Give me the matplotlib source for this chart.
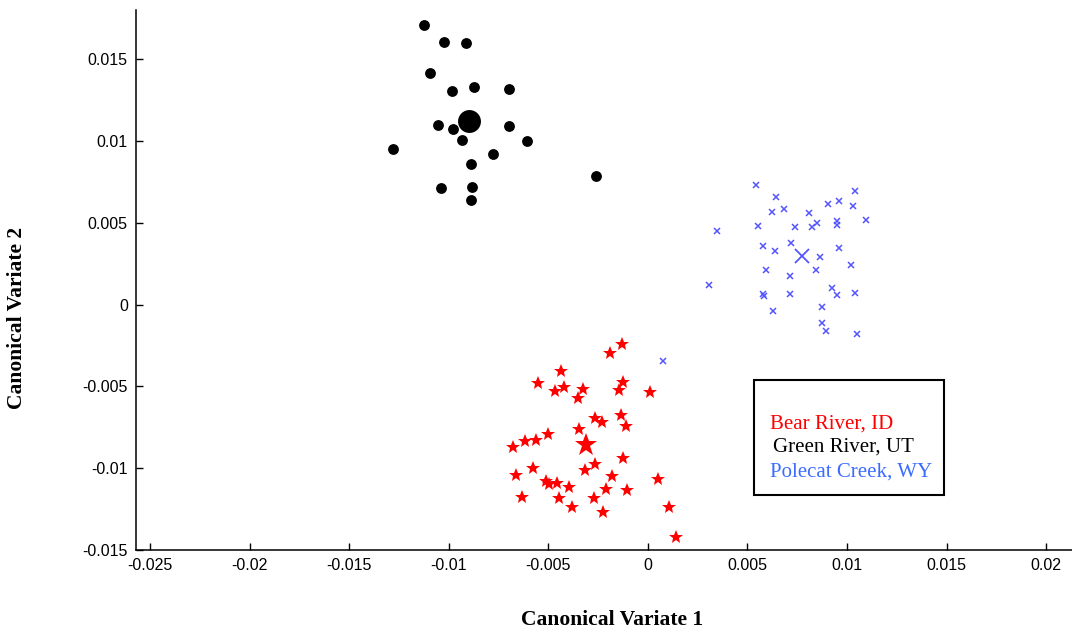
import matplotlib
matplotlib.use("Agg")
import matplotlib.pyplot as plt
from matplotlib.patches import Rectangle

# Green River, UT (black dots)
green_x = [-0.01124, -0.01024, -0.00915, -0.01093, -0.00982, -0.00875, -0.00699,
           -0.01056, -0.00980, -0.00699, -0.00935, -0.00606, -0.01282, -0.00780,
           -0.00889, -0.00261, -0.01038, -0.00882, -0.00889]
green_y = [0.01707, 0.01602, 0.01598, 0.01416, 0.01303, 0.01329, 0.01315,
           0.01098, 0.01073, 0.01091, 0.01004, 0.01002, 0.00949, 0.00921,
           0.00860, 0.00788, 0.00712, 0.00721, 0.00636]
green_mean = (-0.00897, 0.01122)

# Polecat Creek, WY (blue crosses)
polecat_x = [0.00541, 0.00643, 0.01039, 0.00959, 0.00904, 0.01031, 0.00621, 0.00683,
             0.00810, 0.01094, 0.00952, 0.00952, 0.00847, 0.00823, 0.00741, 0.00554,
             0.00345, 0.00579, 0.00721, 0.00959, 0.00636, 0.00863, 0.01019, 0.00594,
             0.00845, 0.00716, 0.00305, 0.00579, 0.00585, 0.00716, 0.00924, 0.00952,
             0.01039, 0.00629, 0.00872, 0.00872, 0.00897, 0.01048, 0.00075]
polecat_y = [0.00732, 0.00657, 0.00691, 0.00630, 0.00612, 0.00604, 0.00563, 0.00581,
             0.00557, 0.00514, 0.00510, 0.00485, 0.00496, 0.00474, 0.00474, 0.00482,
             0.00447, 0.00360, 0.00376, 0.00343, 0.00325, 0.00288, 0.00244, 0.00212,
             0.00212, 0.00173, 0.00118, 0.00065, 0.00050, 0.00067, 0.00104, 0.00061,
             0.00069, -0.00041, -0.00018, -0.00114, -0.00163, -0.00181, -0.00346]
polecat_mean = (0.00772, 0.00299)

# Bear River, ID (red stars)
bear_x = [-0.00129, -0.00191, -0.00435, -0.00554, -0.00124, -0.00467, -0.00420, -0.00325,
          -0.00146, 0.00012, -0.00353, -0.00266, -0.00229, -0.00137, -0.00110, -0.00348,
          -0.00502, -0.00562, -0.00617, -0.00678, -0.00124, -0.00576, -0.00266, -0.00318,
          -0.00663, -0.00182, 0.00052, -0.00514, -0.00497, -0.00458, -0.00395, -0.00212,
          -0.00104, -0.00631, -0.00448, -0.00271, -0.00380, -0.00224, 0.00105, 0.00139]
bear_y = [-0.00240, -0.00295, -0.00404, -0.00477, -0.00471, -0.00526, -0.00506, -0.00514,
          -0.00523, -0.00532, -0.00573, -0.00693, -0.00715, -0.00677, -0.00744, -0.00762,
          -0.00791, -0.00829, -0.00837, -0.00870, -0.00939, -0.00998, -0.00977, -0.01014,
          -0.01041, -0.01047, -0.01067, -0.01077, -0.01096, -0.01093, -0.01116, -0.01130,
          -0.01136, -0.01175, -0.01181, -0.01181, -0.01236, -0.01268, -0.01236, -0.01419]
bear_mean = (-0.00311, -0.00858)

x_ticks = [-0.025, -0.02, -0.015, -0.01, -0.005, 0, 0.005, 0.01, 0.015, 0.02]
x_tick_labels = ["-0.025", "-0.02", "-0.015", "-0.01", "-0.005", "0", "0.005", "0.01", "0.015", "0.02"]
y_ticks = [-0.015, -0.01, -0.005, 0, 0.005, 0.01, 0.015]
y_tick_labels = ["-0.015", "-0.01", "-0.005", "0", "0.005", "0.01", "0.015"]

legend_labels = ["Bear River, ID", "Green River, UT", "Polecat Creek, WY"]
legend_colors = ["#ff0000", "#000000", "#3b6cff"]

fig = plt.figure(figsize=(10.72, 6.31), dpi=100)
ax = fig.add_axes([0.127, 0.1284, 0.873, 0.8558])

ax.plot(green_x, green_y, "o", color="black", markersize=7.8, markeredgewidth=0)
ax.plot(*green_mean, "o", color="black", markersize=16.5, markeredgewidth=0)
ax.plot(polecat_x, polecat_y, "x", color="#5555ff", markersize=5, markeredgewidth=1.1)
ax.plot(*polecat_mean, "x", color="#5555ff", markersize=10, markeredgewidth=1.3)
ax.plot(bear_x, bear_y, "*", color="red", markersize=10.5, markeredgewidth=0)
ax.plot(*bear_mean, "*", color="red", markersize=17, markeredgewidth=0)

ax.set_xlim(-0.0257, 0.0213)
ax.set_ylim(-0.015, 0.018)
ax.set_xticks(x_ticks)
ax.set_xticklabels(x_tick_labels, fontname="Liberation Sans", fontsize=11.5)
ax.set_yticks(y_ticks)
ax.set_yticklabels(y_tick_labels, fontname="Liberation Sans", fontsize=11.5)
ax.tick_params(direction="in", length=5, width=1, pad=6)
ax.spines["top"].set_visible(False)
ax.spines["right"].set_visible(False)
ax.spines["left"].set_linewidth(1.1)
ax.spines["bottom"].set_linewidth(1.1)

# legend box
ax.add_patch(Rectangle((0.660, 0.102), 0.203, 0.213, transform=ax.transAxes,
                       fill=False, edgecolor="black", linewidth=1.5, clip_on=False))
for lab, col, yy, xx in zip(legend_labels, legend_colors, [0.233, 0.190, 0.144], [0.677, 0.680, 0.677]):
    ax.text(xx, yy, lab, color=col, transform=ax.transAxes, fontname="Liberation Serif",
            fontsize=15, va="center", ha="left")

fig.text(0.571, 0.017, "Canonical Variate 1", ha="center", va="center",
         fontname="Liberation Serif", fontweight="bold", fontsize=15.5)
fig.text(0.016, 0.496, "Canonical Variate 2", ha="center", va="center", rotation=90,
         fontname="Liberation Serif", fontweight="bold", fontsize=15.5)

fig.savefig("out.png", dpi=100)
